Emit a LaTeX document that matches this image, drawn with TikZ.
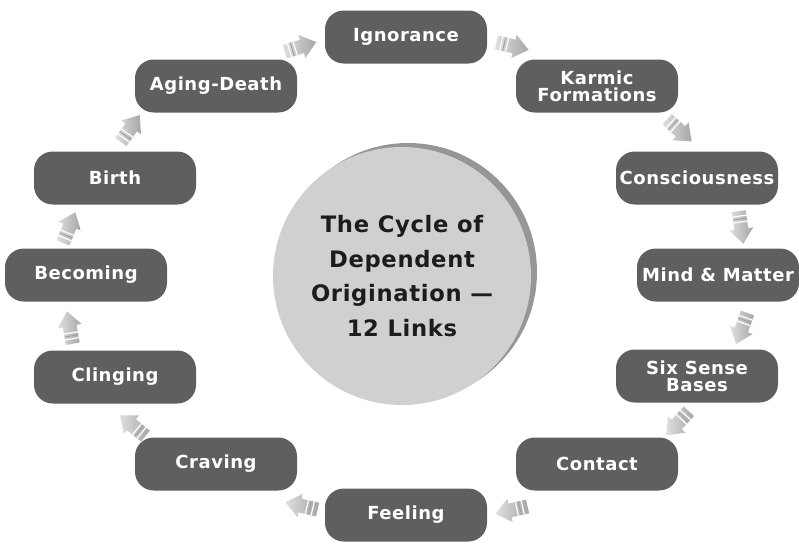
\documentclass[tikz,border=0pt]{standalone}
\usepackage{fontspec}
\setmainfont{DejaVu Sans}

\definecolor{linkgray}{RGB}{95,95,97}
\definecolor{discgray}{RGB}{208,208,210}
\definecolor{rimgray}{RGB}{150,150,153}
\definecolor{inkgray}{RGB}{28,28,28}

\tikzset{
  link/.style={fill=linkgray, rounded corners=14pt, minimum width=121.5pt, minimum height=39.75pt,
    inner sep=0pt, text=white, align=center,
    font=\bfseries\fontsize{13.5}{12.5}\selectfont\addfontfeatures{LetterSpace=3}},
  flowarrow/.pic={
    \shade[left color=gray!25, right color=gray!70] (-16,-7) -- (2,-7) -- (2,-12) -- (17,0) -- (2,12) -- (2,7) -- (-16,7) -- cycle;
    \draw[white, line width=0.9pt] (-11,-7) -- (-11,7);
    \draw[gray!75, line width=0.6pt] (-8,-7) -- (-8,7);
    \draw[white, line width=0.9pt] (-5,-7) -- (-5,7);
  }
}

\begin{document}
\begin{tikzpicture}[x=0.75pt,y=0.75pt,yscale=-1,xscale=1]
\useasboundingbox (0,0) rectangle (799,544);

% hub disc
\fill[rimgray] (408,272) circle (129);
\node[circle, fill=discgray, minimum size=193.5pt, inner sep=0pt, text=inkgray, align=center,
  font=\bfseries\fontsize{17}{26}\selectfont\addfontfeatures{LetterSpace=3}] (hub) at (402,276)
  {The Cycle of\\Dependent\\Origination —\\12 Links};

% the twelve links
\node[link] (ign) at (406,37)  {Ignorance};
\node[link] (kar) at (597,86)  {Karmic\\Formations};
\node[link] (con) at (697,178) {Consciousness};
\node[link] (nam) at (718,275) {Mind \& Matter};
\node[link] (six) at (697,376) {Six Sense\\Bases};
\node[link] (cot) at (597,464) {Contact};
\node[link] (fee) at (406,515) {Feeling};
\node[link] (cra) at (216,464) {Craving};
\node[link] (cli) at (115,377) {Clinging};
\node[link] (bec) at (86,275)  {Becoming};
\node[link] (bir) at (115,178) {Birth};
\node[link] (age) at (216,86)  {Aging-Death};

% block arrows between links
\pic[rotate=17]   at (300,47)  {flowarrow};
\pic[rotate=-13]  at (512,46)  {flowarrow};
\pic[rotate=-42]  at (679,130) {flowarrow};
\pic[rotate=-82]  at (741,227) {flowarrow};
\pic[rotate=-110] at (742,328) {flowarrow};
\pic[rotate=-133] at (678,423) {flowarrow};
\pic[rotate=-167] at (512,510) {flowarrow};
\pic[rotate=-193] at (302,506) {flowarrow};
\pic[rotate=-219] at (133,426) {flowarrow};
\pic[rotate=-260] at (70,328)  {flowarrow};
\pic[rotate=-292] at (69,228)  {flowarrow};
\pic[rotate=-305] at (130,129) {flowarrow};

\end{tikzpicture}
\end{document}
